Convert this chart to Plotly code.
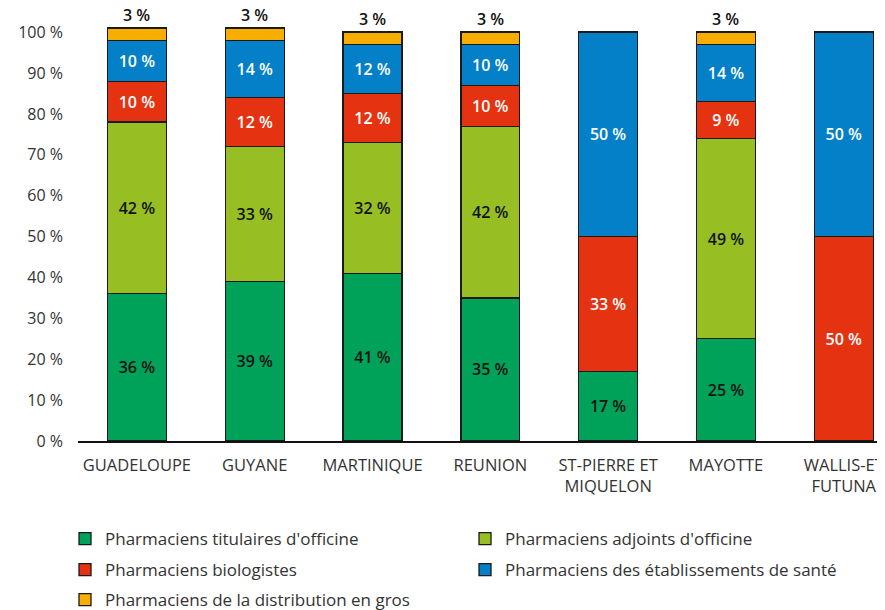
import plotly.graph_objects as go

categories = ["GUADELOUPE", "GUYANE", "MARTINIQUE", "REUNION",
              "ST-PIERRE ET<br>MIQUELON", "MAYOTTE", "WALLIS-ET<br>FUTUNA"]

titulaires = [36, 39, 41, 35, 17, 25, 0]
adjoints = [42, 33, 32, 42, 0, 49, 0]
biologistes = [10, 12, 12, 10, 33, 9, 50]
etablissements = [10, 14, 12, 10, 50, 14, 50]
distribution = [3, 3, 3, 3, 0, 3, 0]

y_ticks = [0, 10, 20, 30, 40, 50, 60, 70, 80, 90, 100]

series_names = ["Pharmaciens titulaires d'officine", "Pharmaciens adjoints d'officine",
                "Pharmaciens biologistes", "Pharmaciens des établissements de santé",
                "Pharmaciens de la distribution en gros"]
series_values = [titulaires, adjoints, biologistes, etablissements, distribution]
colors = ["#00A25A", "#97BE22", "#E53312", "#0380C7", "#F8AE00"]
text_colors = ["#111111", "#111111", "#FFFFFF", "#FFFFFF", "#111111"]
legend_ids = ["legend", "legend", "legend2", "legend2", "legend3"]

FONT = "Open Sans"
W, H = 877, 602  # page body has an 8px margin

fig = go.Figure()
for i, (name, vals) in enumerate(zip(series_names, series_values)):
    show_text = i < 4
    fig.add_trace(go.Bar(
        x=categories, y=vals, name=name, legend=legend_ids[i],
        marker=dict(color=colors[i], line=dict(color="#1a1a1a", width=1.3)),
        text=[f"{v} %" if (v > 0 and show_text) else "" for v in vals],
        textposition="inside", insidetextanchor="middle", textangle=0,
        textfont=dict(family=FONT, size=16, color=text_colors[i], weight=600),
        width=0.5, cliponaxis=False, hoverinfo="skip",
    ))

totals = [sum(s[j] for s in series_values) for j in range(len(categories))]
for j, cat in enumerate(categories):
    if distribution[j] > 0:
        fig.add_annotation(x=cat, y=totals[j], text=f"{distribution[j]} %",
                           showarrow=False, yanchor="bottom", yshift=0,
                           font=dict(family=FONT, size=16, color="#111111", weight=600))

def leg(ypix):
    return dict(orientation="h", traceorder="normal",
                xref="container", yref="container",
                x=57 / W, xanchor="left", y=1 - ypix / H, yanchor="middle",
                entrywidth=355, entrywidthmode="pixels",
                font=dict(family=FONT, size=17, color="#333333"),
                itemclick=False, itemdoubleclick=False)

fig.update_layout(
    barmode="stack",
    width=W, height=H,
    margin=dict(l=70, r=0, t=18, b=169, autoexpand=False),
    plot_bgcolor="white", paper_bgcolor="white",
    font=dict(family=FONT, size=15, color="#333333"),
    showlegend=True,
    legend=leg(531), legend2=leg(562), legend3=leg(592),
    xaxis=dict(range=[-0.5, 6.35], showline=True, linecolor="#111111", linewidth=1.5,
               ticks="", ticklabelstandoff=8,
               tickfont=dict(family=FONT, size=16.5, color="#333333"),
               showgrid=False),
    yaxis=dict(range=[0, 101.5], tickmode="array", tickvals=y_ticks,
               ticktext=[f"{v} %" for v in y_ticks],
               showgrid=False, zeroline=False, ticklabelstandoff=14,
               showline=False, ticks="", tickfont=dict(family=FONT, size=16, color="#333333")),
)

fig.write_html("out.html")
